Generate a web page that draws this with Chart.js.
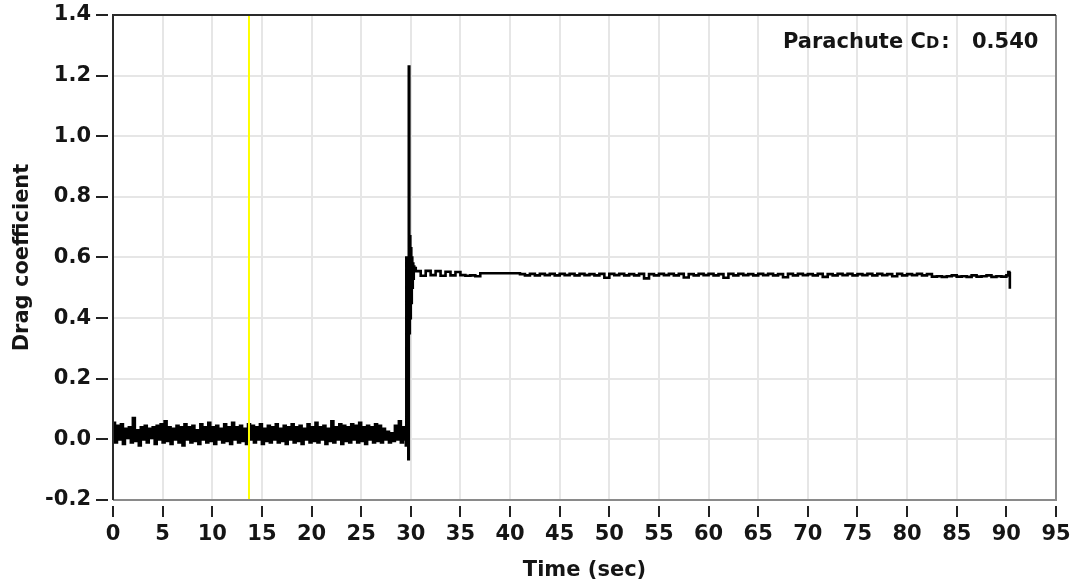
<!DOCTYPE html>
<html>
<head>
<meta charset="utf-8">
<script src="https://cdn.jsdelivr.net/npm/chart.js@4.4.1/dist/chart.umd.min.js"></script>
<style>
  body { margin: 0; background: #fff; }
  #wrap { width: 1073px; height: 587px; }
</style>
</head>
<body>
<div id="wrap"><canvas id="dragChart"></canvas></div>
<script>
// axis setup
const xTicks = [0, 5, 10, 15, 20, 25, 30, 35, 40, 45, 50, 55, 60, 65, 70, 75, 80, 85, 90, 95];
const yTicks = [-0.2, 0.0, 0.2, 0.4, 0.6, 0.8, 1.0, 1.2, 1.4];
const cursorTime = 13.7;
const parachuteCd = "0.540";

// before deployment: noise around zero, sampled every 0.2 s from t = 0
const noiseStart = 0;
const noiseStep = 0.2;
const noiseValues = [
  0.055, -0.01, 0.045, 0.0, 0.05, -0.015, 0.035, 0.005, 0.04, -0.01,
  0.07, -0.005, 0.03, -0.02, 0.04, 0.0, 0.045, -0.01, 0.035, 0.005,
  0.04, -0.015, 0.045, 0.0, 0.05, -0.01, 0.06, -0.005, 0.04, -0.015,
  0.035, 0.0, 0.045, -0.01, 0.04, -0.02, 0.05, 0.0, 0.04, -0.01,
  0.045, -0.005, 0.03, -0.015, 0.05, 0.0, 0.04, -0.01, 0.055, -0.005,
  0.04, -0.015, 0.045, 0.0, 0.035, -0.01, 0.05, -0.005, 0.04, -0.015,
  0.055, 0.0, 0.04, -0.01, 0.045, -0.005, 0.035, -0.015, 0.05, 0.0,
  0.045, -0.01, 0.04, 0.0, 0.05, -0.015, 0.035, -0.005, 0.045, -0.01,
  0.04, 0.0, 0.05, -0.01, 0.035, -0.005, 0.045, -0.015, 0.04, 0.0,
  0.05, -0.01, 0.04, -0.005, 0.045, -0.015, 0.035, 0.0, 0.05, -0.01,
  0.04, -0.005, 0.055, -0.01, 0.04, 0.0, 0.045, -0.015, 0.035, -0.005,
  0.06, -0.01, 0.04, 0.0, 0.05, -0.015, 0.045, -0.005, 0.04, -0.01,
  0.05, 0.0, 0.045, -0.01, 0.055, -0.005, 0.04, -0.015, 0.045, 0.0,
  0.04, -0.01, 0.05, -0.005, 0.045, -0.01, 0.035, 0.0, 0.025, -0.01,
  0.02, -0.005, 0.045, 0.0, 0.06, -0.01, 0.04, 0.0
];

// deployment spike
const jumpTimes = [29.45, 29.5, 29.55, 29.6, 29.65, 29.7, 29.75, 29.8, 29.85, 29.9,
  29.95, 30.0, 30.05, 30.1, 30.15, 30.2, 30.25, 30.3, 30.35, 30.4];
const jumpValues = [0.01, -0.02, 0.6, 0.05, 0.58, 0.3, -0.065, 1.23, 0.35, 0.67,
  0.4, 0.63, 0.45, 0.6, 0.5, 0.58, 0.53, 0.57, 0.555, 0.565];

// open parachute, every 0.5 s from 30.5 s
const plateauStart = 30.5;
const plateauStep = 0.5;
const plateauValues = [
  0.555, 0.54, 0.556, 0.542, 0.555, 0.54, 0.553, 0.541, 0.552, 0.542,
  0.54, 0.541, 0.538, 0.548, 0.548, 0.548, 0.548, 0.548, 0.548, 0.548,
  0.548, 0.545, 0.541, 0.546, 0.541, 0.546, 0.542, 0.546, 0.541, 0.546,
  0.542, 0.546, 0.541, 0.546, 0.542, 0.545, 0.541, 0.546, 0.533, 0.546,
  0.542, 0.546, 0.541, 0.545, 0.541, 0.546, 0.531, 0.545, 0.541, 0.546,
  0.542, 0.546, 0.541, 0.546, 0.534, 0.545, 0.541, 0.546, 0.542, 0.546,
  0.541, 0.545, 0.533, 0.546, 0.541, 0.546, 0.542, 0.545, 0.541, 0.546,
  0.542, 0.546, 0.541, 0.545, 0.535, 0.546, 0.541, 0.546, 0.542, 0.545,
  0.541, 0.546, 0.536, 0.545, 0.541, 0.546, 0.542, 0.546, 0.541, 0.545,
  0.542, 0.546, 0.541, 0.546, 0.542, 0.545, 0.538, 0.546, 0.541, 0.545,
  0.542, 0.546, 0.541, 0.545, 0.537, 0.538, 0.536, 0.538, 0.541, 0.537,
  0.538, 0.536, 0.541, 0.537, 0.538, 0.541, 0.536, 0.538, 0.537, 0.541
];

const tailTimes = [90.2, 90.3, 90.35];
const tailValues = [0.552, 0.548, 0.497];

const textColor = "#151515";
const fontFamily = "'DejaVu Sans', Verdana, sans-serif";

function buildPoints() {
  const pts = [];
  noiseValues.forEach((v, i) => pts.push({ x: noiseStart + i * noiseStep, y: v }));
  jumpValues.forEach((v, i) => pts.push({ x: jumpTimes[i], y: v }));
  plateauValues.forEach((v, i) => pts.push({ x: plateauStart + i * plateauStep, y: v }));
  tailValues.forEach((v, i) => pts.push({ x: tailTimes[i], y: v }));
  return pts;
}

// ticks outside the frame, frame itself, and the Cd readout
const framePlugin = {
  id: "frame",
  afterDraw(chart) {
    const ctx = chart.ctx;
    const a = chart.chartArea;
    const xs = chart.scales.x;
    const ys = chart.scales.y;
    ctx.save();
    ctx.strokeStyle = "#222";
    ctx.lineWidth = 2;
    xTicks.forEach(t => {
      const px = Math.round(xs.getPixelForValue(t));
      ctx.beginPath();
      ctx.moveTo(px, a.bottom + 6);
      ctx.lineTo(px, a.bottom + 17);
      ctx.stroke();
    });
    yTicks.forEach(t => {
      const py = Math.round(ys.getPixelForValue(t));
      ctx.beginPath();
      ctx.moveTo(a.left - 17, py);
      ctx.lineTo(a.left - 5, py);
      ctx.stroke();
    });

    ctx.strokeStyle = "#8a8a8a";
    ctx.beginPath();
    ctx.moveTo(a.right, a.top);
    ctx.lineTo(a.right, a.bottom);
    ctx.lineTo(a.left, a.bottom);
    ctx.stroke();
    ctx.strokeStyle = "#2a2a2a";
    ctx.beginPath();
    ctx.moveTo(a.left, a.bottom);
    ctx.lineTo(a.left, a.top);
    ctx.lineTo(a.right, a.top);
    ctx.stroke();

    ctx.fillStyle = textColor;
    ctx.textBaseline = "alphabetic";
    ctx.textAlign = "left";
    ctx.font = "bold 21px " + fontFamily;
    let x = 783;
    const base = 48;
    ctx.fillText("Parachute C", x, base);
    x += ctx.measureText("Parachute C").width;
    ctx.font = "bold 16px " + fontFamily;
    ctx.fillText("D", x, base);
    x += ctx.measureText("D").width;
    ctx.font = "bold 21px " + fontFamily;
    ctx.fillText(":", x + 2, base);
    ctx.fillText(parachuteCd, 972, base);
    ctx.restore();
  }
};

new Chart(document.getElementById("dragChart"), {
  type: "line",
  data: {
    datasets: [
      {
        label: "cursor",
        data: [{ x: cursorTime, y: -0.2 }, { x: cursorTime, y: 1.4 }],
        borderColor: "#ffff00",
        borderWidth: 2,
        pointRadius: 0
      },
      {
        label: "Drag coefficient",
        data: buildPoints(),
        borderColor: "#000",
        borderWidth: 2.6,
        pointRadius: 0,
        stepped: true
      }
    ]
  },
  options: {
    responsive: true,
    maintainAspectRatio: false,
    animation: false,
    layout: { padding: { top: 15, right: 17, left: 0, bottom: 0 } },
    plugins: { legend: { display: false }, tooltip: { enabled: false } },
    scales: {
      x: {
        type: "linear",
        min: 0,
        max: 95,
        afterFit: s => {
          s.height = 87;
          s.paddingLeft = 0;
          s.paddingRight = 0;
        },
        afterBuildTicks: s => { s.ticks = xTicks.map(v => ({ value: v })); },
        ticks: {
          color: textColor,
          font: { family: fontFamily, size: 21, weight: "bold" },
          padding: 22,
          maxRotation: 0,
          autoSkip: false
        },
        grid: { color: "#e6e6e6", lineWidth: 2, drawTicks: false },
        border: { display: false },
        title: {
          display: true,
          text: "Time (sec)",
          color: textColor,
          font: { family: fontFamily, size: 21, weight: "bold" },
          padding: { top: 0, bottom: 4 }
        }
      },
      y: {
        min: -0.2,
        max: 1.4,
        afterFit: s => {
          s.width = 113;
          s.paddingTop = 0;
          s.paddingBottom = 0;
        },
        afterBuildTicks: s => { s.ticks = yTicks.map(v => ({ value: v })); },
        ticks: {
          color: textColor,
          font: { family: fontFamily, size: 21, weight: "bold" },
          padding: 22,
          callback: v => v.toFixed(1)
        },
        grid: { color: "#e6e6e6", lineWidth: 2, drawTicks: false },
        border: { display: false },
        title: {
          display: true,
          text: "Drag coefficient",
          color: textColor,
          font: { family: fontFamily, size: 21, weight: "bold" },
          padding: { top: 10, bottom: 0 }
        }
      }
    }
  },
  plugins: [framePlugin]
});
</script>
</body>
</html>
